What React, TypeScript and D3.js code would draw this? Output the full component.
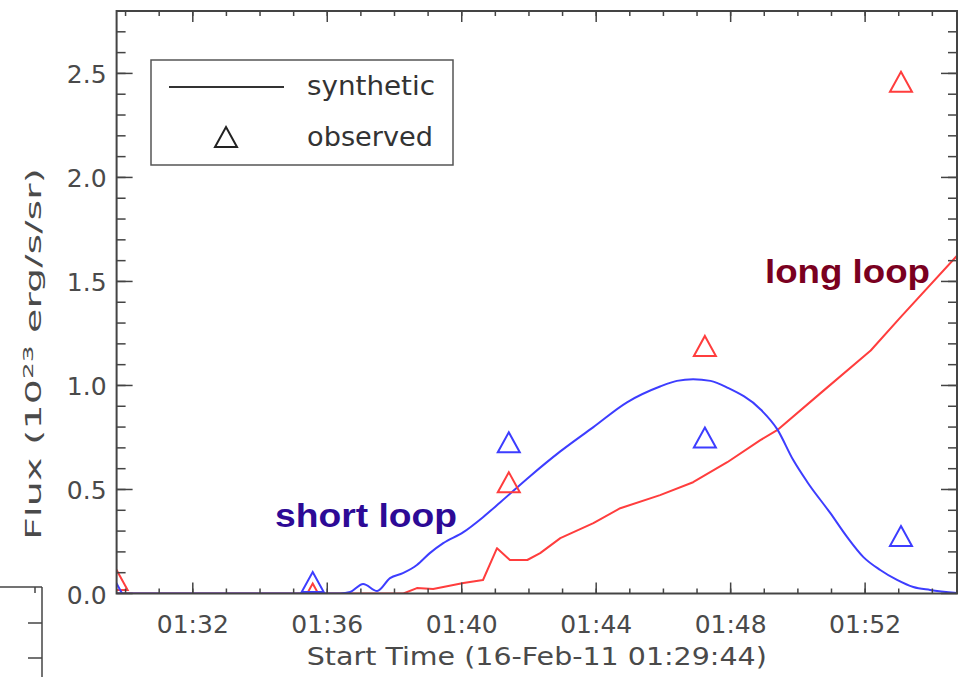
import React from 'react';
import * as d3 from 'd3';

// time axis: seconds after 16-Feb-11 01:29:44
const startTime = new Date(2011, 1, 16, 1, 29, 44);
const spanSeconds = 1500;

// synthetic curves
const shortLoopSeconds = [0, 399, 417, 440, 465, 488, 511, 536, 559, 583, 619, 654, 685, 738, 792, 851, 911, 970, 1000, 1029, 1060, 1090, 1149, 1179, 1208, 1233, 1274, 1304, 1333, 1363, 1393, 1422, 1452, 1500];
const shortLoopFlux = [0, 0, 0.007, 0.046, 0.012, 0.074, 0.098, 0.137, 0.194, 0.242, 0.295, 0.367, 0.439, 0.564, 0.683, 0.8, 0.919, 0.995, 1.022, 1.03, 1.022, 0.99, 0.886, 0.79, 0.64, 0.535, 0.386, 0.271, 0.175, 0.113, 0.065, 0.031, 0.017, 0.002];
const longLoopSeconds = [0, 512, 536, 565, 619, 654, 679, 702, 733, 756, 792, 851, 899, 970, 1029, 1090, 1149, 1179, 1256, 1346, 1399, 1500];
const longLoopFlux = [0, 0, 0.026, 0.022, 0.05, 0.065, 0.218, 0.161, 0.161, 0.194, 0.266, 0.338, 0.41, 0.473, 0.535, 0.631, 0.737, 0.785, 0.962, 1.168, 1.327, 1.624];

// observed points
const observedSeconds = [0, 350, 700, 1050, 1400];
const observedLong = [0.065, 0.0, 0.535, 1.19, 2.46];
const observedShort = [0.0, 0.055, 0.727, 0.75, 0.276];

const yTickLabels = [0, 0.5, 1.0, 1.5, 2.0, 2.5];

const BLUE = '#3d3dff';
const RED = '#ff3d3d';
const AXIS = '#444';
const TEXT = '#4a4a4a';
const TICK_FONT = '"DejaVu Sans", sans-serif';

const W = 971;
const H = 677;
const left = 116.6, right = 957, top = 11, bottom = 593.5;

const at = (s: number) => new Date(startTime.getTime() + s * 1000);
const tri = 'M0,-10L11,10L-11,10Z';

export default function App() {
  const x = d3.scaleTime().domain([startTime, at(spanSeconds)]).range([left, right]);
  const y = d3.scaleLinear().domain([0, 2.8]).range([bottom, top]);
  const fmt = d3.timeFormat('%H:%M');
  const majorX = x.ticks(d3.timeMinute.every(4) as any);
  const minorX = x.ticks(d3.timeMinute.every(1) as any);
  const minorY = d3.range(1, 28).map(i => i / 10);

  const smooth = d3.line<[number, number]>()
    .x(d => x(at(d[0])))
    .y(d => y(d[1]))
    .curve(d3.curveMonotoneX);
  const straight = d3.line<[number, number]>()
    .x(d => x(at(d[0])))
    .y(d => y(d[1]));

  const shortPts = shortLoopSeconds.map((s, i) => [s, shortLoopFlux[i]] as [number, number]);
  const longPts = longLoopSeconds.map((s, i) => [s, longLoopFlux[i]] as [number, number]);

  return (
    <svg width={W} height={H} style={{ position: 'absolute', left: 0, top: 0, background: '#fff' }}>
      <defs>
        <clipPath id="plotArea">
          <rect x={left} y={top} width={right - left} height={bottom - top} />
        </clipPath>
      </defs>
      <rect width={W} height={H} fill="#fff" />

      {/* fragment of neighbouring panel */}
      <g stroke={AXIS} strokeWidth={1.5} fill="none">
        <line x1={0} y1={587} x2={42} y2={587} />
        <line x1={42} y1={587} x2={42} y2={677} />
        <line x1={35} y1={587} x2={35} y2={593} />
        <line x1={28} y1={623} x2={42} y2={623} />
        <line x1={28} y1={658} x2={42} y2={658} />
      </g>

      {/* data */}
      <g clipPath="url(#plotArea)">
        <path d={straight(longPts) || ''} fill="none" stroke={RED} strokeWidth={2} strokeLinejoin="round" />
        <path d={smooth(shortPts) || ''} fill="none" stroke={BLUE} strokeWidth={2} />
        {observedSeconds.map((s, i) => (
          <path key={'r' + i} d={tri} transform={`translate(${x(at(s))},${y(observedLong[i])})`}
            fill="none" stroke={RED} strokeWidth={2} />
        ))}
        {observedSeconds.map((s, i) => (
          <path key={'b' + i} d={tri} transform={`translate(${x(at(s))},${y(observedShort[i])})`}
            fill="none" stroke={BLUE} strokeWidth={2} />
        ))}
      </g>

      {/* frame */}
      <rect x={left} y={top} width={right - left} height={bottom - top} fill="none" stroke={AXIS} strokeWidth={2} />

      {/* ticks on all four sides */}
      <g stroke={AXIS} strokeWidth={1.5}>
        {minorX.map((d, i) => (
          <g key={'mx' + i}>
            <line x1={x(d)} x2={x(d)} y1={bottom} y2={bottom - 5} />
            <line x1={x(d)} x2={x(d)} y1={top} y2={top + 5} />
          </g>
        ))}
        {majorX.map((d, i) => (
          <g key={'Mx' + i}>
            <line x1={x(d)} x2={x(d)} y1={bottom} y2={bottom - 11} />
            <line x1={x(d)} x2={x(d)} y1={top} y2={top + 11} />
          </g>
        ))}
        {minorY.map((v, i) => (
          <g key={'my' + i}>
            <line x1={left} x2={left + 9} y1={y(v)} y2={y(v)} />
            <line x1={right} x2={right - 9} y1={y(v)} y2={y(v)} />
          </g>
        ))}
        {yTickLabels.map((v, i) => (
          <g key={'My' + i}>
            <line x1={left} x2={left + 16} y1={y(v)} y2={y(v)} />
            <line x1={right} x2={right - 16} y1={y(v)} y2={y(v)} />
          </g>
        ))}
      </g>

      <g fill={TEXT} fontFamily={TICK_FONT} fontSize={25}>
        {majorX.map((d, i) => (
          <text key={'lx' + i} x={x(d)} y={bottom + 39} textAnchor="middle">{fmt(d)}</text>
        ))}
        {yTickLabels.map((v, i) => (
          <text key={'ly' + i} x={left - 10} y={y(v) + 10} textAnchor="end">{v.toFixed(1)}</text>
        ))}
        <text x={(left + right) / 2} y={665} textAnchor="middle" textLength={460} lengthAdjust="spacingAndGlyphs">
          Start Time (16-Feb-11 01:29:44)
        </text>
      </g>

      <text transform="translate(41,354) rotate(-90)" textAnchor="middle" fill={TEXT}
        fontFamily={TICK_FONT} fontSize={21} textLength={372} lengthAdjust="spacingAndGlyphs">
        Flux (10<tspan dy={-8} fontSize={14}>23</tspan><tspan dy={8}> erg/s/sr)</tspan>
      </text>

      {/* legend */}
      <g>
        <rect x={151} y={60} width={302} height={105} fill="#fff" stroke="#555" strokeWidth={1.5} />
        <line x1={169} x2={284} y1={87} y2={87} stroke="#333" strokeWidth={2} />
        <path d={tri} transform="translate(226,137)" fill="none" stroke="#222" strokeWidth={2} />
        <g fill="#333" fontFamily={TICK_FONT} fontSize={26}>
          <text x={307} y={95} textLength={128} lengthAdjust="spacingAndGlyphs">synthetic</text>
          <text x={307} y={146} textLength={126} lengthAdjust="spacingAndGlyphs">observed</text>
        </g>
      </g>

      {/* annotations */}
      <g fontFamily='"Liberation Sans", Arial, sans-serif' fontWeight="bold" fontSize={34}>
        <text x={275} y={527} fill="#2d0a96" textLength={182} lengthAdjust="spacingAndGlyphs">short loop</text>
        <text x={765} y={283} fill="#7a0020" textLength={165} lengthAdjust="spacingAndGlyphs">long loop</text>
      </g>
    </svg>
  );
}
